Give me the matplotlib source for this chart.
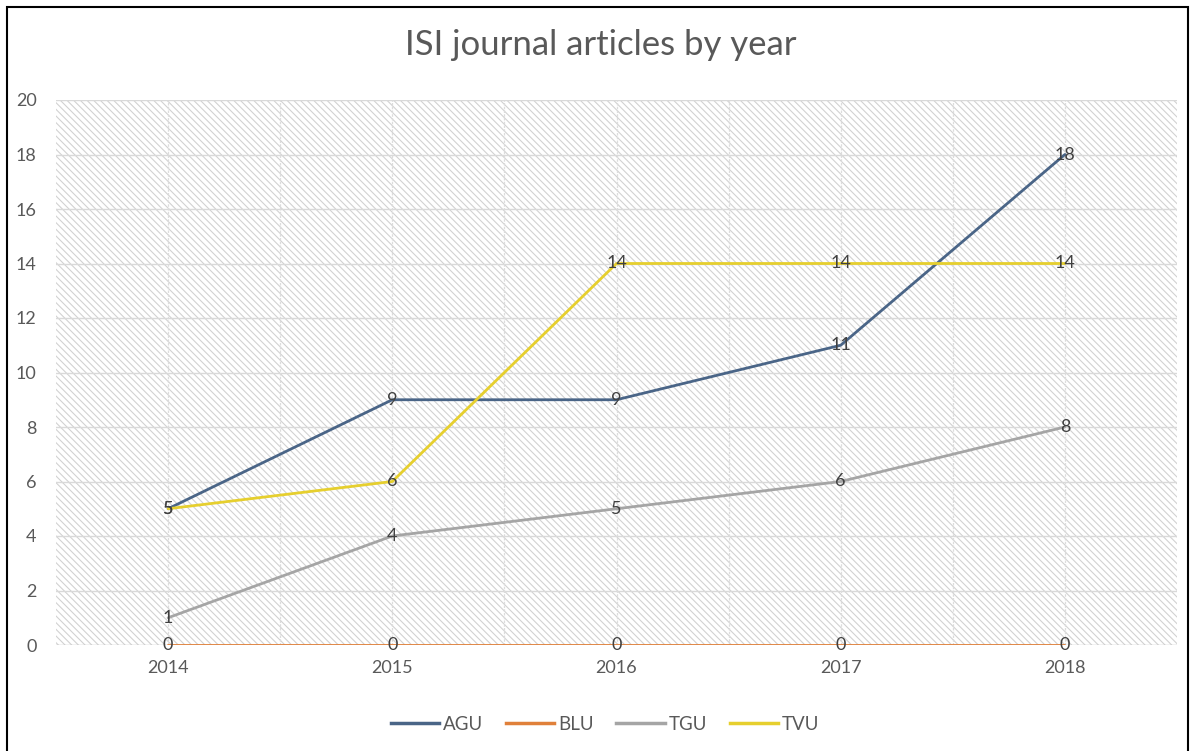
import matplotlib
matplotlib.use("Agg")
import matplotlib.pyplot as plt
from matplotlib.patches import Rectangle
from matplotlib.lines import Line2D

years = ["2014", "2015", "2016", "2017", "2018"]
agu = [5, 9, 9, 11, 18]
blu = [0, 0, 0, 0, 0]
tgu = [1, 4, 5, 6, 8]
tvu = [5, 6, 14, 14, 14]
series_names = ["AGU", "BLU", "TGU", "TVU"]
series_values = [agu, blu, tgu, tvu]
series_colors = ["#4a6587", "#e0803a", "#a5a5a5", "#e6cf2e"]

plt.rcParams["font.family"] = ["Lato", "DejaVu Sans"]
plt.rcParams["hatch.linewidth"] = 0.8
plt.rcParams["hatch.color"] = "#d2d2d2"

fig = plt.figure(figsize=(11.92, 7.51), dpi=100)
ax = fig.add_axes([56 / 1192, 1 - 645 / 751, 1121 / 1192, 545 / 751])

x = list(range(len(years)))

# hatched plot-area background
ax.patch.set_facecolor("white")
bg = Rectangle((0, 0), 1, 1, transform=ax.transAxes, facecolor="white",
               edgecolor="#d2d2d2", hatch="\\\\\\\\\\", linewidth=0, zorder=0)
ax.add_patch(bg)

# gridlines
for yv in range(2, 21, 2):
    ax.axhline(yv, color="#d9d9d9", lw=1.0, zorder=1)
for k in range(0, 9):
    ax.axvline(k * 0.5, color="#dcdcdc", lw=0.9, ls=(0, (2, 1)), zorder=1)
ax.axhline(0, color="#bfbfbf", lw=1.0, zorder=1)

for name, vals, col in zip(series_names, series_values, series_colors):
    lw = 1.3 if name == "BLU" else 2.0
    ax.plot(x, vals, color=col, lw=lw, zorder=3, label=name, solid_capstyle="round")

# data labels centred on each point
for vals in [blu, tgu, agu, tvu]:
    for xi, v in zip(x, vals):
        ax.text(xi, v, str(v), ha="center", va="center", fontsize=13,
                color="#404040", zorder=4)

ax.set_xlim(-0.5, 4.5)
ax.set_ylim(0, 20)
ax.set_xticks(x)
ax.set_xticklabels(years)
ax.set_yticks(range(0, 21, 2))
ax.tick_params(axis="both", length=0, labelsize=13, colors="#595959")
ax.tick_params(axis="x", pad=11)
ax.tick_params(axis="y", pad=14)
for s in ax.spines.values():
    s.set_visible(False)

fig.text(601 / 1192, 1 - 45 / 751, "ISI journal articles by year",
         ha="center", va="center", fontsize=25, color="#595959")

handles = [Line2D([0], [0], color=c, lw=2.5) for c in series_colors]
fig.legend(handles, series_names, loc="center", bbox_to_anchor=(605 / 1192, 1 - 724 / 751),
           ncol=4, frameon=False, fontsize=13.5, handlelength=2.6, handletextpad=0.2,
           columnspacing=1.2, labelcolor="#595959")

# outer frame
frame = Rectangle((7 / 1192, -0.01), (1188 - 7) / 1192, 1 - 7 / 751 + 0.01,
                  transform=fig.transFigure, fill=False, edgecolor="black", lw=1.5)
fig.add_artist(frame)

fig.savefig("out.png", dpi=100)
